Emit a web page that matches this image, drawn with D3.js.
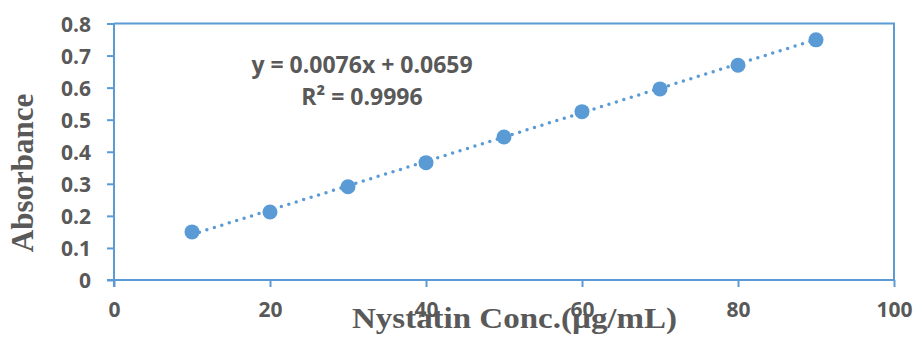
<!DOCTYPE html>
<html>
<head>
<meta charset="utf-8">
<script src="https://cdn.jsdelivr.net/npm/d3@7"></script>
<style>
  html, body { margin: 0; padding: 0; background: #fff; }
  svg { display: block; }
</style>
</head>
<body>
<svg id="chart" width="914" height="337"></svg>
<script>
// Calibration data: nystatin concentration vs absorbance
const concentrations = [10, 20, 30, 40, 50, 60, 70, 80, 90];
const absorbances = [0.150, 0.212, 0.291, 0.366, 0.446, 0.525, 0.596, 0.670, 0.749];
const xTicks = [0, 20, 40, 60, 80, 100];
const yTicks = [0, 0.1, 0.2, 0.3, 0.4, 0.5, 0.6, 0.7, 0.8];
const slope = 0.0076;
const intercept = 0.0659;
const rSquared = "0.9996";

const blue = "#5B9BD5";
const textGray = "#595959";
const sansFont = "'Open Sans', sans-serif";
const serifFont = "'Liberation Serif', 'Times New Roman', serif";

const svg = d3.select("#chart");
const plot = { left: 114, right: 894, top: 23.5, bottom: 280 };

const x = d3.scaleLinear().domain([0, 100]).range([plot.left, plot.right]);
const y = d3.scaleLinear().domain([0, 0.8]).range([plot.bottom, plot.top]);

// Axis titles (drawn first so tick labels sit on top)
svg.append("text")
  .attr("x", 514.5).attr("y", 328)
  .attr("text-anchor", "middle")
  .attr("fill", textGray)
  .attr("textLength", 325)
  .attr("lengthAdjust", "spacingAndGlyphs")
  .style("font-family", serifFont)
  .style("font-weight", "bold")
  .style("font-size", "30px")
  .text("Nystatin Conc.(µg/mL)");

svg.append("text")
  .attr("transform", "translate(33,173) rotate(-90)")
  .attr("text-anchor", "middle")
  .attr("fill", textGray)
  .style("font-family", serifFont)
  .style("font-weight", "bold")
  .style("font-size", "31px")
  .text("Absorbance");

// Plot frame (top and right edges)
svg.append("path")
  .attr("d", `M${plot.left},${plot.top}H${plot.right}V${plot.bottom}`)
  .attr("fill", "none").attr("stroke", blue).attr("stroke-width", 2);

// Axes
const xAxis = d3.axisBottom(x).tickValues(xTicks).tickSize(7).tickPadding(15).tickFormat(d3.format("d"));
const yAxis = d3.axisLeft(y).tickValues(yTicks).tickSize(7).tickPadding(16)
  .tickFormat(d => d === 0 ? "0" : d3.format(".1f")(d));

const gx = svg.append("g").attr("transform", `translate(0,${plot.bottom})`).call(xAxis);
const gy = svg.append("g").attr("transform", `translate(${plot.left},0)`).call(yAxis);

[gx, gy].forEach(g => {
  g.select(".domain").remove();
  g.selectAll(".tick line").attr("stroke", blue).attr("stroke-width", 2);
  g.selectAll(".tick text")
    .attr("fill", textGray)
    .style("font-family", sansFont)
    .style("font-weight", "bold")
    .style("font-size", "21px");
});
gy.selectAll(".tick text").attr("dy", "0.36em");

// Axis lines
svg.append("line").attr("x1", plot.left).attr("x2", plot.left)
  .attr("y1", plot.top).attr("y2", plot.bottom + 7)
  .attr("stroke", blue).attr("stroke-width", 2);
svg.append("line").attr("x1", plot.left - 7).attr("x2", plot.right)
  .attr("y1", plot.bottom).attr("y2", plot.bottom)
  .attr("stroke", blue).attr("stroke-width", 2);

// Linear trendline (dotted)
const xMin = d3.min(concentrations), xMax = d3.max(concentrations);
svg.append("line")
  .attr("x1", x(xMin)).attr("y1", y(slope * xMin + intercept))
  .attr("x2", x(xMax)).attr("y2", y(slope * xMax + intercept))
  .attr("stroke", blue).attr("stroke-width", 3.5)
  .attr("stroke-linecap", "round")
  .attr("stroke-dasharray", "0 7.8");

// Data markers
svg.append("g").selectAll("circle")
  .data(concentrations.map((c, i) => [c, absorbances[i]]))
  .join("circle")
  .attr("cx", d => x(d[0])).attr("cy", d => y(d[1]))
  .attr("r", 7.5).attr("fill", blue);

// Regression equation
const eq = svg.append("text")
  .attr("text-anchor", "middle")
  .attr("fill", textGray)
  .style("font-family", sansFont)
  .style("font-weight", "bold")
  .style("font-size", "23px");
eq.append("tspan").attr("x", 362).attr("y", 73)
  .text(`y = ${slope}x + ${intercept}`);
eq.append("tspan").attr("x", 362).attr("y", 105)
  .text(`R² = ${rSquared}`);
</script>
</body>
</html>
